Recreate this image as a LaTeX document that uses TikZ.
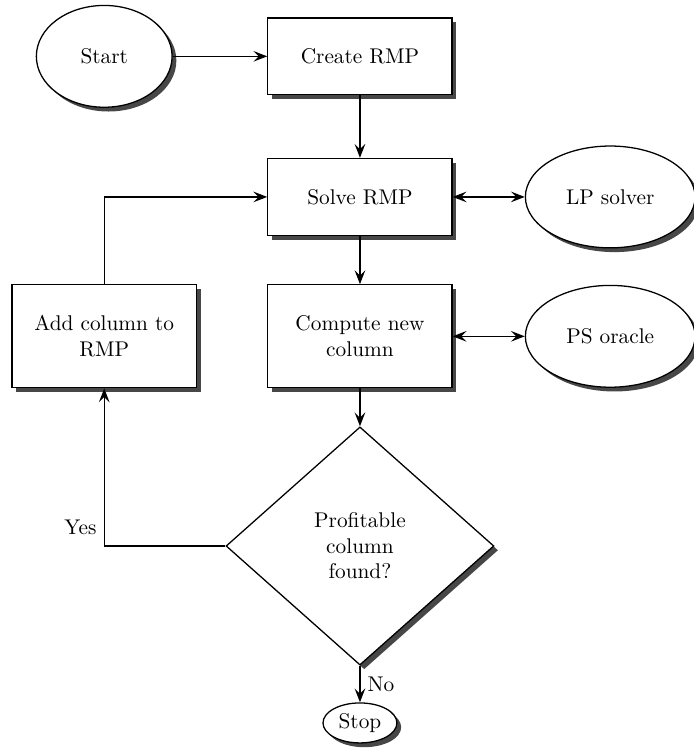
\documentclass[tikz,border=0pt]{standalone}
\usepackage{amsmath}
\usepackage{xcolor}
\usepackage{tikz}
\usetikzlibrary{shapes.geometric, arrows.meta, positioning, shadows}
\tikzstyle{boxshadow} = [drop shadow={shadow xshift=2pt, shadow yshift=-2pt, fill=black!72, opacity=1}]
\tikzstyle{terminal}  = [ellipse, draw, semithick, fill=white, boxshadow, minimum width=2.24cm, minimum height=1.68cm]
\tikzstyle{process}   = [rectangle, draw, semithick, fill=white, boxshadow, minimum width=3.04cm, minimum height=1.27cm]
\tikzstyle{decision}  = [diamond, draw, semithick, fill=white, boxshadow, minimum width=4.42cm, minimum height=3.93cm, inner sep=0pt]
\tikzstyle{arrow}     = [semithick,-{Stealth[length=6.5pt,width=5pt,inset=2.5pt]}]
\tikzstyle{biarrow}   = [semithick,{Stealth[length=6.5pt,width=5pt,inset=2.5pt]}-{Stealth[length=6.5pt,width=5pt,inset=2.5pt]}]
\tikzset{every node/.style={align=center}}

\begin{document}
\begin{tikzpicture}
  \useasboundingbox (0,0) rectangle (11.45,12.36);
  % Nodes
  \node[terminal] (start) at (1.72,11.43) {Start};
  \node[process] (create) at (5.94,11.43) {Create RMP};
  \node[process] (solve) at (5.94,9.11) {Solve RMP};
  \node[terminal, minimum width=2.8cm] (lp) at (10.07,9.11) {LP solver};
  \node[process, minimum height=1.7cm] (add) at (1.72,6.81) {Add column to\\RMP};
  \node[process, minimum height=1.7cm] (compute) at (5.94,6.81) {Compute new\\column};
  \node[terminal, minimum width=2.8cm] (ps) at (10.07,6.81) {PS oracle};
  \node[decision] (found) at (5.94,3.35) {Profitable\\column\\found?};
  \node[terminal, minimum width=1.22cm, minimum height=0.66cm, inner sep=1pt] (stop) at (5.94,0.43) {Stop};
  % Connectors
  \draw[arrow] (start) -- (create);
  \draw[arrow] (create) -- (solve);
  \draw[biarrow] (solve) -- (lp);
  \draw[arrow] (solve) -- (compute);
  \draw[biarrow] (compute) -- (ps);
  \draw[arrow] (compute) -- (found);
  \draw[arrow] (found) -- node[right]{No} (stop);
  \draw[arrow] (found.west) -| node[pos=0.56, left]{Yes} (add.south);
  \draw[arrow] (add.north) |- (solve.west);
\end{tikzpicture}
\end{document}
